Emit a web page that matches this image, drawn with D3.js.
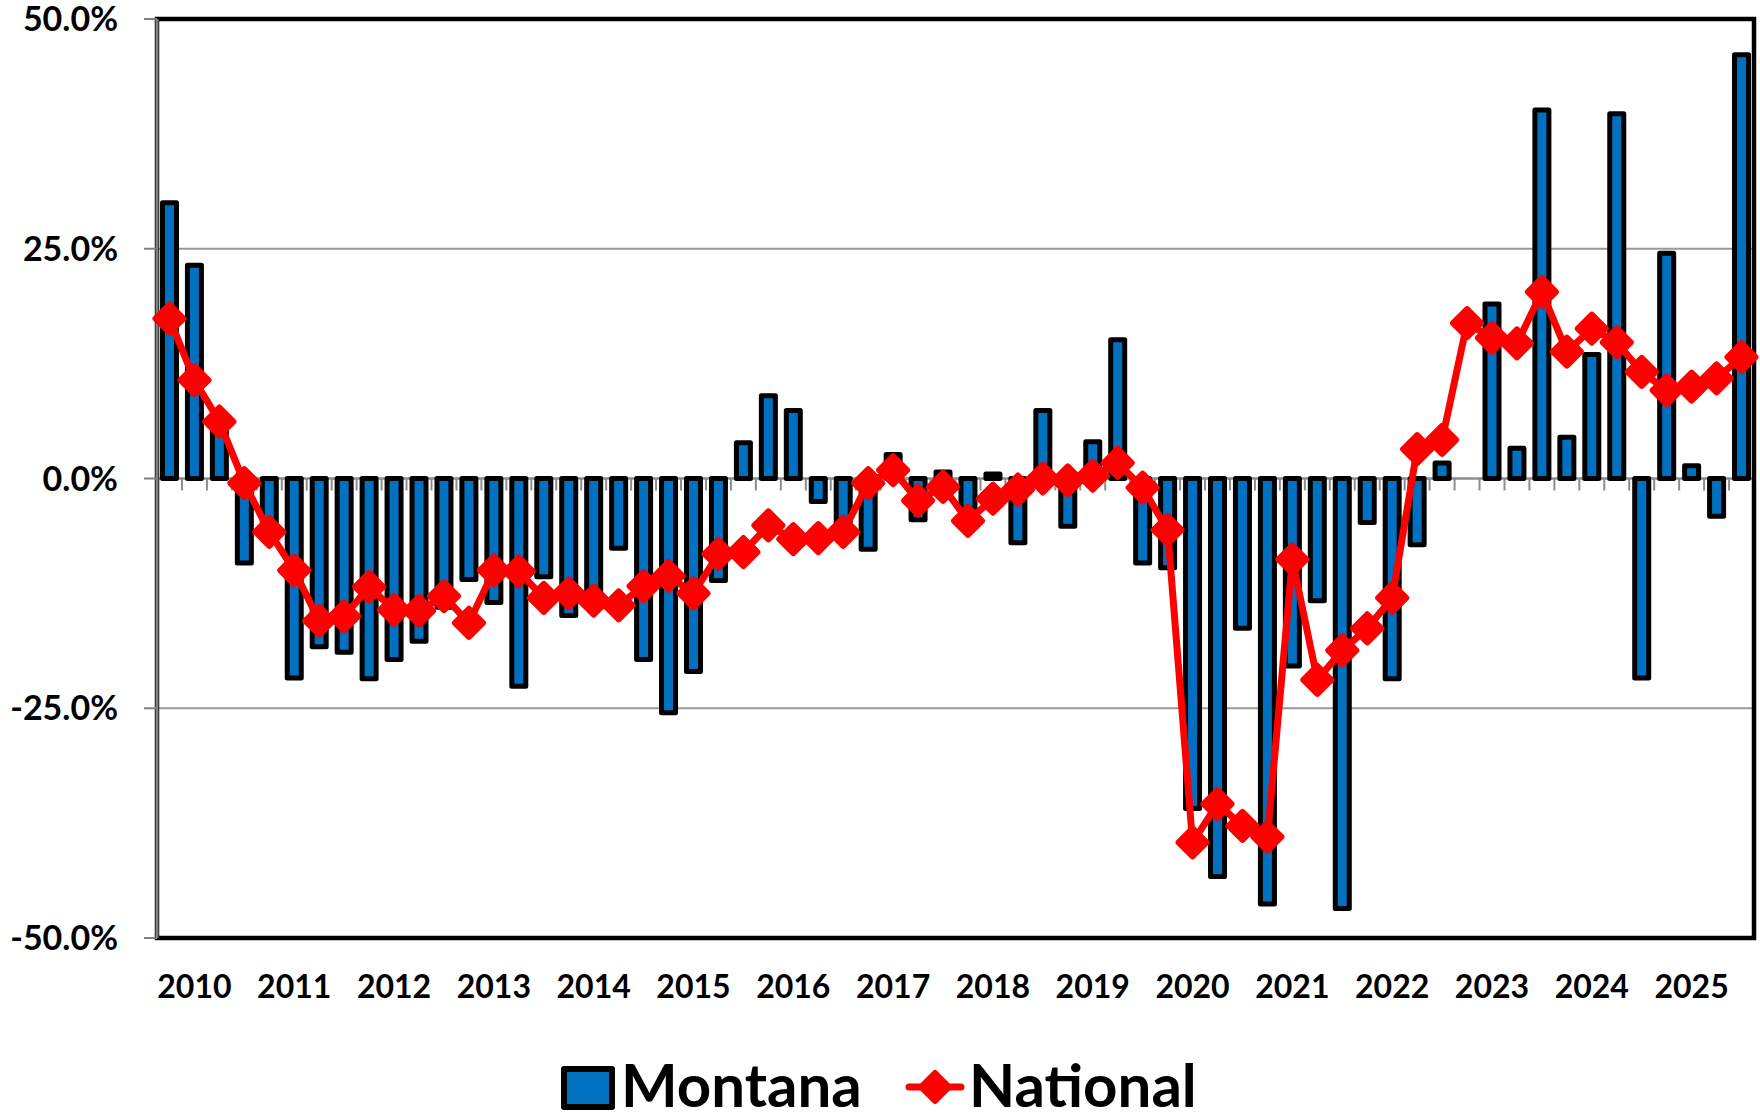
<!DOCTYPE html>
<html>
<head>
<meta charset="utf-8">
<script src="https://cdn.jsdelivr.net/npm/d3@7"></script>
<style>
  body { margin: 0; background: #fff; }
  text { font-family: Lato, "Open Sans", sans-serif; font-weight: bold; fill: #000; }
</style>
</head>
<body>
<svg id="chart"></svg>
<script>
// quarterly year-over-year change, 2010 Q1 .. 2025 Q4
var years = [2010, 2011, 2012, 2013, 2014, 2015, 2016, 2017, 2018, 2019, 2020, 2021, 2022, 2023, 2024, 2025];
var quarters = ['Q1', 'Q2', 'Q3', 'Q4'];

var montana = [
  30.0, 23.2, 5.5, -9.2,
  -5.5, -21.7, -18.3, -18.9,
  -21.8, -19.7, -17.7, -14.0,
  -11.0, -13.5, -22.6, -10.7,
  -14.9, -14.0, -7.6, -19.7,
  -25.5, -21.0, -11.1, 3.9,
  9.0, 7.4, -2.5, -6.5,
  -7.7, 2.6, -4.5, 0.7,
  -3.5, 0.5, -7.0, 7.4,
  -5.2, 4.0, 15.1, -9.2,
  -9.7, -35.9, -43.3, -16.3,
  -46.3, -20.4, -13.3, -46.8,
  -4.8, -21.8, -7.2, 1.7,
  null, 19.0, 3.3, 40.1,
  4.5, 13.5, 39.7, -21.7,
  24.5, 1.4, -4.1, 46.1
];

var national = [
  17.4, 10.7, 6.2, -0.5,
  -5.8, -10.0, -15.5, -15.0,
  -11.8, -14.3, -14.4, -12.8,
  -15.7, -10.0, -10.1, -13.0,
  -12.5, -13.3, -13.8, -11.7,
  -10.6, -12.5, -8.2, -8.0,
  -5.1, -6.6, -6.5, -5.8,
  -0.5, 0.9, -2.4, -0.9,
  -4.6, -2.2, -1.2, 0.0,
  -0.2, 0.3, 1.7, -1.0,
  -5.6, -39.6, -35.4, -37.8,
  -39.0, -8.8, -21.9, -18.7,
  -16.3, -13.0, 3.2, 4.2,
  16.9, 15.3, 14.7, 20.3,
  13.8, 16.3, 14.8, 11.6,
  9.6, 10.0, 10.9, 13.2
];

var yTicks = [50, 25, 0, -25, -50];
var yTickLabels = ['50.0%', '25.0%', '0.0%', '-25.0%', '-50.0%'];

var w = 1760, h = 1113;
var plotL = 157, plotR = 1754, plotT = 19, plotB = 938;

var categories = [];
years.forEach(function(yr){
  quarters.forEach(function(q){ categories.push(yr + ' ' + q); });
});

var x = d3.scaleBand().domain(categories).range([plotL, plotR]);
var y = d3.scaleLinear().domain([-50, 50]).range([plotB, plotT]);
var bw = x.bandwidth();

var svg = d3.select('#chart')
  .attr('width', w)
  .attr('height', h);

// gridlines
svg.selectAll('line.grid')
  .data([25, -25])
  .enter()
  .append('line')
  .attr('class', 'grid')
  .attr('x1', plotL).attr('x2', plotR)
  .attr('y1', function(d){return y(d);})
  .attr('y2', function(d){return y(d);})
  .attr('stroke', '#999')
  .attr('stroke-width', 2);

// category axis at zero, with a tick between every quarter
svg.append('line')
  .attr('x1', plotL).attr('x2', plotR)
  .attr('y1', y(0)).attr('y2', y(0))
  .attr('stroke', '#8c8c8c')
  .attr('stroke-width', 2.5);

svg.selectAll('line.qtick')
  .data(categories)
  .enter()
  .append('line')
  .attr('class', 'qtick')
  .attr('x1', function(d){return x(d) + bw;})
  .attr('x2', function(d){return x(d) + bw;})
  .attr('y1', y(0))
  .attr('y2', y(0) + 12)
  .attr('stroke', '#8c8c8c')
  .attr('stroke-width', 2);

// Montana bars
var barW = 14;
svg.selectAll('rect.bar')
  .data(montana.map(function(v, i){return {c: categories[i], v: v};})
    .filter(function(d){return d.v !== null;}))
  .enter()
  .append('rect')
  .attr('class', 'bar')
  .attr('x', function(d){return x(d.c) + (bw - barW) / 2;})
  .attr('width', barW)
  .attr('y', function(d){return y(Math.max(0, d.v));})
  .attr('height', function(d){return Math.abs(y(d.v) - y(0));})
  .attr('fill', '#0070C0')
  .attr('stroke', '#000')
  .attr('stroke-width', 5)
  .attr('stroke-linejoin', 'round');

// plot border
svg.append('rect')
  .attr('x', plotL).attr('y', plotT)
  .attr('width', plotR - plotL).attr('height', plotB - plotT)
  .attr('fill', 'none')
  .attr('stroke', '#000')
  .attr('stroke-width', 4.5);

// value axis
svg.append('line')
  .attr('x1', plotL).attr('x2', plotL)
  .attr('y1', plotT).attr('y2', plotB)
  .attr('stroke', '#7f7f7f')
  .attr('stroke-width', 3);

svg.selectAll('line.ytick')
  .data(yTicks)
  .enter()
  .append('line')
  .attr('class', 'ytick')
  .attr('x1', plotL - 13).attr('x2', plotL)
  .attr('y1', function(d){return y(d);})
  .attr('y2', function(d){return y(d);})
  .attr('stroke', '#7f7f7f')
  .attr('stroke-width', 2);

svg.selectAll('text.ylab')
  .data(yTicks)
  .enter()
  .append('text')
  .attr('class', 'ylab')
  .attr('x', 118)
  .attr('y', function(d){return y(d);})
  .attr('dy', '0.36em')
  .attr('text-anchor', 'end')
  .style('font-size', '34px')
  .text(function(d, i){return yTickLabels[i];});

// year labels sit under the second quarter
svg.selectAll('text.xlab')
  .data(years)
  .enter()
  .append('text')
  .attr('class', 'xlab')
  .attr('x', function(d){return x(d + ' Q2') + bw / 2;})
  .attr('y', 998)
  .attr('text-anchor', 'middle')
  .style('font-size', '32px')
  .text(function(d){return d;});

// National line
var diamond = function(cx, cy, r){
  return 'M' + cx + ',' + (cy - r) + 'L' + (cx + r) + ',' + cy +
         'L' + cx + ',' + (cy + r) + 'L' + (cx - r) + ',' + cy + 'Z';
};

var line = d3.line()
  .x(function(d, i){return x(categories[i]) + bw / 2;})
  .y(function(d){return y(d);});

svg.append('path')
  .datum(national)
  .attr('d', line)
  .attr('fill', 'none')
  .attr('stroke', '#FF0000')
  .attr('stroke-width', 7)
  .attr('stroke-linejoin', 'round');

svg.selectAll('path.marker')
  .data(national)
  .enter()
  .append('path')
  .attr('class', 'marker')
  .attr('d', function(d, i){return diamond(x(categories[i]) + bw / 2, y(d), 14);})
  .attr('fill', '#FF0000')
  .attr('stroke', '#FF0000')
  .attr('stroke-width', 6)
  .attr('stroke-linejoin', 'round');

// legend
var legend = svg.append('g');
legend.append('rect')
  .attr('x', 564).attr('y', 1069)
  .attr('width', 48).attr('height', 38)
  .attr('fill', '#0070C0')
  .attr('stroke', '#000')
  .attr('stroke-width', 6)
  .attr('stroke-linejoin', 'round');
legend.append('text')
  .attr('x', 621).attr('y', 1107)
  .style('font-size', '60px')
  .text('Montana');

legend.append('line')
  .attr('x1', 909).attr('x2', 961)
  .attr('y1', 1087).attr('y2', 1087)
  .attr('stroke', '#FF0000')
  .attr('stroke-width', 7)
  .attr('stroke-linecap', 'round');
legend.append('path')
  .attr('d', diamond(935, 1087, 14))
  .attr('fill', '#FF0000')
  .attr('stroke', '#FF0000')
  .attr('stroke-width', 6)
  .attr('stroke-linejoin', 'round');
legend.append('text')
  .attr('x', 969).attr('y', 1107)
  .style('font-size', '60px')
  .text('National');
</script>
</body>
</html>
